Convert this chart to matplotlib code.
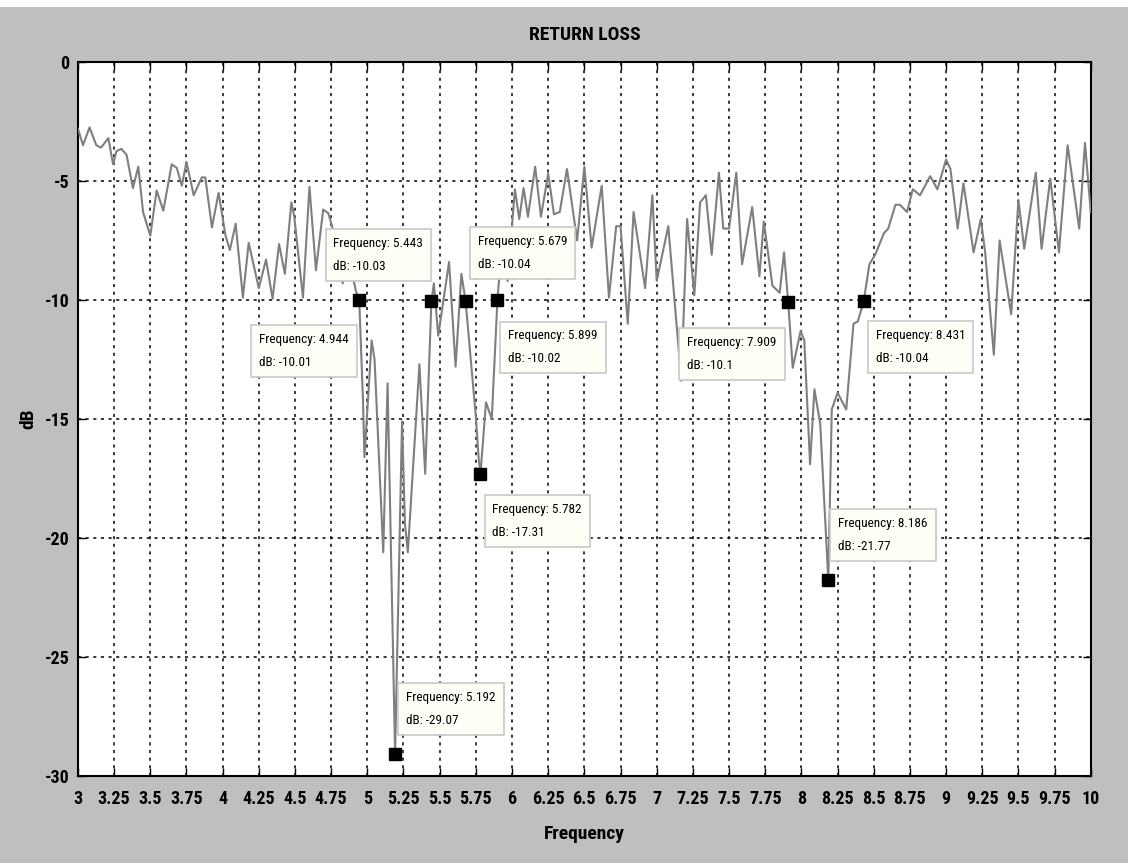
import numpy as np
import matplotlib
matplotlib.use("Agg")
import matplotlib.pyplot as plt
from matplotlib import font_manager
from matplotlib.patches import Rectangle

# pick a narrow sans if one is installed, else Liberation Sans
installed = {f.name for f in font_manager.fontManager.ttflist}
narrow = 'Liberation Sans'
for name in ['Liberation Sans Narrow', 'Arial Narrow', 'Roboto Condensed', 'Open Sans Condensed']:
    if name in installed:
        narrow = name
        break
plt.rcParams['font.family'] = [narrow, 'DejaVu Sans']
plt.rcParams['axes.unicode_minus'] = False

# Return loss trace (GHz, dB)
freq = [3.00, 3.035, 3.08, 3.127, 3.16, 3.21, 3.243, 3.266, 3.30, 3.336,
        3.38, 3.417, 3.45, 3.50, 3.544, 3.59, 3.648, 3.683, 3.718, 3.75,
        3.80, 3.856, 3.88, 3.926, 3.972, 4.02, 4.05, 4.09, 4.14, 4.18,
        4.25, 4.30, 4.345, 4.39, 4.43, 4.475, 4.495, 4.555, 4.60, 4.645,
        4.695, 4.73, 4.78, 4.83, 4.88, 4.92, 4.944, 4.97, 4.98, 5.03,
        5.05, 5.11, 5.14, 5.192, 5.24, 5.26, 5.28, 5.36, 5.40, 5.443,
        5.46, 5.49, 5.565, 5.61, 5.65, 5.679, 5.75, 5.77, 5.782, 5.82,
        5.86, 5.899, 5.93, 5.97, 6.02, 6.05, 6.08, 6.11, 6.16, 6.20,
        6.25, 6.29, 6.33, 6.38, 6.45, 6.50, 6.55, 6.62, 6.67, 6.72,
        6.75, 6.80, 6.84, 6.92, 6.97, 7.00, 7.08, 7.17, 7.21, 7.26,
        7.30, 7.34, 7.38, 7.43, 7.46, 7.50, 7.55, 7.59, 7.66, 7.71,
        7.74, 7.80, 7.85, 7.88, 7.909, 7.94, 7.995, 8.02, 8.06, 8.09,
        8.13, 8.186, 8.21, 8.25, 8.31, 8.36, 8.39, 8.431, 8.47, 8.51,
        8.57, 8.60, 8.65, 8.68, 8.73, 8.77, 8.82, 8.89, 8.94, 9.00,
        9.03, 9.08, 9.12, 9.19, 9.24, 9.27, 9.33, 9.37, 9.45, 9.50,
        9.54, 9.62, 9.66, 9.72, 9.78, 9.84, 9.92, 9.96, 10.0]
db = [-2.8, -3.5, -2.75, -3.5, -3.6, -3.2, -4.3, -3.75, -3.65, -3.9,
      -5.3, -4.4, -6.3, -7.3, -5.4, -6.25, -4.3, -4.45, -5.2, -4.2,
      -5.6, -4.85, -4.85, -6.95, -5.5, -7.3, -7.9, -6.8, -9.9, -7.6,
      -9.5, -8.3, -9.95, -7.65, -8.9, -5.9, -6.5, -9.9, -5.25, -8.75,
      -6.2, -6.35, -7.4, -9.3, -8.4, -9.6, -10.01, -14.2, -16.6, -11.7,
      -12.5, -20.6, -13.5, -29.07, -15.1, -19.4, -20.6, -12.7, -17.3, -10.03,
      -9.3, -11.5, -8.4, -12.8, -8.9, -10.04, -14.9, -16.7, -17.31, -14.3,
      -15.0, -10.02, -7.6, -9.2, -5.35, -6.6, -5.3, -6.5, -4.4, -6.5,
      -4.7, -6.4, -6.3, -4.5, -7.5, -4.4, -7.8, -5.2, -9.9, -6.9,
      -6.9, -11.0, -6.3, -9.5, -5.6, -9.2, -6.9, -13.4, -6.6, -9.8,
      -5.9, -5.6, -8.1, -4.65, -7.0, -7.0, -4.65, -8.5, -6.1, -9.0,
      -6.7, -9.4, -9.7, -8.0, -10.1, -12.85, -11.3, -11.7, -16.9, -13.75,
      -15.2, -21.77, -14.6, -13.9, -14.6, -11.0, -10.9, -10.04, -8.5, -8.1,
      -7.2, -7.0, -6.0, -6.0, -6.3, -5.35, -5.6, -4.8, -5.35, -4.1,
      -4.5, -7.0, -5.1, -8.0, -6.6, -8.0, -12.3, -7.5, -10.6, -5.8,
      -7.85, -4.65, -7.85, -4.9, -8.0, -3.5, -7.0, -3.4, -6.3]

# data tips
tip_freq = [4.944, 5.443, 5.679, 5.899, 5.782, 5.192, 7.909, 8.186, 8.431]
tip_db = [-10.01, -10.03, -10.04, -10.02, -17.31, -29.07, -10.1, -21.77, -10.04]
tip_labels = ["4.944", "5.443", "5.679", "5.899", "5.782", "5.192", "7.909", "8.186", "8.431"]
tip_db_labels = ["-10.01", "-10.03", "-10.04", "-10.02", "-17.31", "-29.07", "-10.1", "-21.77", "-10.04"]
# box offsets in pixels from the marker
tip_offsets = [(-100, -51), (-98, 46), (12, 48), (11, -47), (12, -47),
               (11, 45), (-101, -52), (10, 45), (12, -46)]

xticks = np.arange(3, 10.01, 0.25)
xtick_labels = ["3", "3.25", "3.5", "3.75", "4", "4.25", "4.5", "4.75", "5", "5.25",
                "5.5", "5.75", "6", "6.25", "6.5", "6.75", "7", "7.25", "7.5", "7.75",
                "8", "8.25", "8.5", "8.75", "9", "9.25", "9.5", "9.75", "10"]
yticks = [0, -5, -10, -15, -20, -25, -30]

fig = plt.figure(figsize=(11.28, 8.63), dpi=100, facecolor='#bfbfbf')
fig.patches.append(Rectangle((0, 0.992), 1, 0.008, transform=fig.transFigure,
                             facecolor='white', edgecolor='none'))
ax = fig.add_axes([0.0691, 0.1008, 0.8979, 0.8274])
ax.set_facecolor('white')

ax.plot(freq, db, color='#7f7f7f', lw=1.5, zorder=3)

for f, d, fl, dl, (dx, dy) in zip(tip_freq, tip_db, tip_labels, tip_db_labels, tip_offsets):
    ax.plot(f, d, 's', color='black', ms=9, zorder=5)
    ax.annotate("Frequency: " + fl + "\ndB: " + dl, xy=(f, d),
                xytext=(dx, dy), textcoords='offset pixels',
                ha='left', va='center', fontsize=9.5, linespacing=2.0,
                bbox=dict(boxstyle='square,pad=0.6', fc='#fffff8', ec='#c8c8c8', lw=1.2),
                zorder=6)

ax.set_xlim(3, 10)
ax.set_ylim(-30, 0)
ax.set_xticks(xticks)
ax.set_xticklabels(xtick_labels)
ax.set_yticks(yticks)
ax.grid(True, color='black', linestyle=(0, (2, 3)), lw=1.1)
ax.tick_params(direction='in', length=6, width=1, top=True, right=True,
               labelsize=13)
ax.tick_params(axis='x', pad=10)
ax.tick_params(axis='y', pad=6)
for lab in ax.get_xticklabels() + ax.get_yticklabels():
    lab.set_fontweight('bold')
for sp in ax.spines.values():
    sp.set_linewidth(1.5)
    sp.set_color('black')

ax.set_title('RETURN LOSS', fontsize=14, fontweight='bold', pad=16)
ax.set_xlabel('Frequency', fontsize=14, fontweight='bold', labelpad=12)
ax.set_ylabel('dB', fontsize=14, fontweight='bold')
ax.yaxis.set_label_coords(-0.04, 0.5)

fig.savefig('out.png', dpi=100, facecolor=fig.get_facecolor())
